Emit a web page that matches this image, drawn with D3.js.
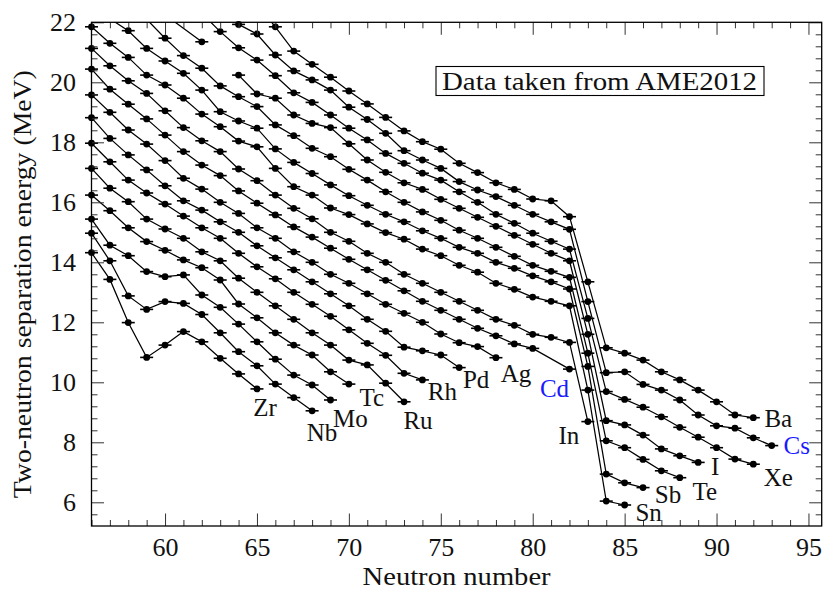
<!DOCTYPE html>
<html><head><meta charset="utf-8">
<script src="https://cdn.jsdelivr.net/npm/d3@7"></script>
<style>
body{margin:0;background:#fff}
svg{display:block}
text{font-family:'Liberation Serif','Times New Roman',serif;fill:#111}
</style>
</head><body>
<svg id="chart" width="823" height="591"></svg>
<script>
// ---------------- DATA ----------------
// null = no value for that N (line continues to the next value); NaN = line is interrupted there
const elements = ["Zr","Nb","Mo","Tc","Ru","Rh","Pd","Ag","Cd","In","Sn","Sb","Te","I","Xe","Cs","Ba"];
const firstN   = [56,56,56,56,56,56,56,56,56,56,56,57,59,60,62,63,65];

const s2nZr = [14.32,13.43,11.99,10.83,11.24,11.69,11.35,10.80,10.28,9.78];
const s2nNb = [14.97,14.05,12.88,12.43,12.69,12.63,12.26,11.65,11.02,10.55,9.94,9.49,9.05];
const s2nMo = [15.44,14.57,14.22,13.69,13.52,13.58,12.91,12.50,11.94,11.35,10.77,10.24,9.91,9.41];
const s2nTc = [16.24,15.72,15.15,14.69,14.40,14.08,13.82,13.41,12.61,12.15,11.65,11.24,10.91,10.35,9.94];
const s2nRu = [17.13,16.47,16.02,15.44,15.11,14.80,14.35,14.05,13.47,13.00,12.55,12.10,11.65,11.24,10.74,10.58,9.97,9.35];
const s2nRh = [17.97,17.35,16.74,16.31,15.94,15.54,15.15,14.80,14.30,13.85,13.45,13.00,12.60,12.20,11.75,11.30,10.90,10.30,10.08];
const s2nPd = [18.82,18.13,17.58,17.08,16.55,16.05,15.74,15.35,15.00,14.55,14.15,13.75,13.35,12.95,12.55,12.10,11.70,11.17,11.05,10.91,10.49];
const s2nAg = [19.58,19.00,18.41,17.94,17.39,16.80,16.44,16.00,15.63,15.15,14.80,14.35,14.00,13.60,13.30,12.95,12.60,12.30,12.00,11.61,11.32,11.19,10.82];
const s2nCd = [20.44,19.77,19.27,18.78,18.24,17.69,17.24,16.89,16.38,15.97,15.58,15.18,14.84,14.47,14.10,13.75,13.40,13.05,12.70,12.40,12.10,11.80,11.55,11.28,11.13,null,10.44];
const s2nIn = [21.13,20.55,20.05,19.63,19.05,18.49,18.05,17.69,17.11,16.72,16.24,15.80,15.45,15.00,14.70,14.30,14.00,13.60,13.30,13.00,12.70,12.40,12.10,11.90,11.60,11.50,11.33,8.69];
const s2nSn = [21.85,21.30,20.83,20.24,19.91,19.47,18.94,18.52,18.04,17.85,17.13,16.52,16.24,15.81,15.59,15.28,14.99,14.77,14.44,14.22,13.90,13.67,13.30,13.10,12.84,12.70,12.55,9.74,6.04,5.91];
const s2nSb = [22.12,21.72,21.13,20.71,20.30,19.74,19.02,18.71,18.47,17.78,17.33,16.96,16.58,16.22,15.90,15.60,15.35,15.05,14.80,14.50,14.30,14.00,13.80,13.55,13.35,13.11,10.53,6.94,6.65,6.49];
const s2nTe = [22.10,21.47,20.89,20.47,19.88,19.52,19.19,18.58,18.22,17.80,17.52,17.10,16.74,16.35,16.00,15.68,15.40,15.07,14.80,14.50,14.20,13.90,13.70,13.50,10.97,8.05,7.82,7.43,7.05,6.82];
const s2nI  = [22.25,null,21.35,NaN,20.24,19.61,19.47,18.91,18.63,18.49,17.95,17.41,17.00,16.65,16.43,16.10,15.80,15.50,15.20,14.90,14.60,14.30,14.05,11.60,8.72,8.58,8.24,7.78,7.55,7.33];
const s2nXe = [22.30,21.69,21.15,20.74,20.22,19.65,19.33,18.91,18.47,18.08,17.63,17.30,16.97,16.74,16.35,16.00,15.60,15.30,14.97,14.70,14.44,12.13,9.69,9.43,9.17,8.85,8.50,8.17,7.82,7.44,7.27];
const s2nCs = [22.50,21.93,21.61,20.91,20.38,20.08,19.74,19.17,18.76,18.30,17.72,17.41,17.13,16.69,16.41,16.19,15.90,15.60,15.35,15.10,12.69,10.32,10.35,9.93,9.74,9.41,8.91,8.55,8.47,8.15,7.89];
const s2nBa = [22.60,21.85,21.04,20.60,20.17,19.71,19.28,18.83,18.38,18.02,17.77,17.30,16.99,16.65,16.43,16.11,16.05,15.52,13.35,11.15,10.97,10.74,10.35,10.08,9.74,9.35,8.91,8.82];

const seriesValues = [s2nZr,s2nNb,s2nMo,s2nTc,s2nRu,s2nRh,s2nPd,s2nAg,s2nCd,s2nIn,s2nSn,s2nSb,s2nTe,s2nI,s2nXe,s2nCs,s2nBa];

const xMajorTicks = [60,65,70,75,80,85,90,95];
const yMajorTicks = [6,8,10,12,14,16,18,20,22];
const xTitle = "Neutron number";
const yTitle = "Two-neutron separation energy (MeV)";
const noteText = "Data taken from AME2012";
const highlighted = ["Cd","Cs"];

// ---------------- LAYOUT ----------------
const plot = {left:91.5, right:821.7, top:22.3, bottom:526};
const labelOffset = {Zr:[8,19],Nb:[10,22],Mo:[20,18],Tc:[23,13],Ru:[14,19],Rh:[20,12],Pd:[17,12],Ag:[20,16],
  Cd:[-15,19],In:[-19,14],Sn:[24,7],Sb:[25,7],Te:[25,14],I:[17,4],Xe:[25,13],Cs:[25,0],Ba:[25,1]};
const FONT = 25;

const svg = d3.select("#chart");
const x = d3.scaleLinear().domain([56, 95.72]).range([plot.left, plot.right]);
const y = d3.scaleLinear().domain([5.21, 22]).range([plot.bottom, plot.top]);

svg.append("defs").append("clipPath").attr("id","clip")
  .append("rect").attr("x",plot.left).attr("y",plot.top)
  .attr("width",plot.right-plot.left).attr("height",plot.bottom-plot.top);

const chains = elements.map((el,i)=>({
  name:el,
  pts: seriesValues[i].map((v,k)=>({n:firstN[i]+k, s:v})).filter(d=>d.s!==null)
}));

const line = d3.line().defined(d=>!isNaN(d.s)).x(d=>x(d.n)).y(d=>y(d.s));
svg.append("g").attr("clip-path","url(#clip)")
  .selectAll("path").data(chains).join("path")
  .attr("d",d=>line(d.pts)).attr("fill","none").attr("stroke","#000").attr("stroke-width",1.25);

const allPts = chains.flatMap(c=>c.pts).filter(d=>!isNaN(d.s) && d.s<=22.05 && d.s>=5.21);
const gMarks = svg.append("g");
gMarks.selectAll("line").data(allPts).join("line")
  .attr("x1",d=>x(d.n)-6.5).attr("x2",d=>x(d.n)+6.5)
  .attr("y1",d=>y(d.s)).attr("y2",d=>y(d.s))
  .attr("stroke","#000").attr("stroke-width",1.6);
gMarks.selectAll("circle").data(allPts).join("circle")
  .attr("cx",d=>x(d.n)).attr("cy",d=>y(d.s)).attr("r",3.4).attr("fill","#000");

const xMinor = d3.range(56, 96, 1).filter(v=>!xMajorTicks.includes(v));
const yMinor = d3.range(5.6, 22, 0.4).map(v=>+v.toFixed(1)).filter(v=>!yMajorTicks.some(t=>Math.abs(t-v)<0.01));

function styleAxis(g){ g.select(".domain").remove(); g.selectAll(".tick line").attr("stroke","#333").attr("stroke-width",1); }
function styleText(g){ g.selectAll("text").attr("font-size",FONT+1).attr("font-family","Liberation Serif").style("fill","#111"); }

svg.append("g").attr("transform",`translate(0,${plot.bottom})`)
  .call(d3.axisBottom(x).tickValues(xMajorTicks).tickSize(-12.5).tickPadding(12).tickFormat(d3.format("d")))
  .call(styleAxis).call(styleText);
svg.append("g").attr("transform",`translate(0,${plot.bottom})`)
  .call(d3.axisBottom(x).tickValues(xMinor).tickSize(-6).tickFormat("")).call(styleAxis);
svg.append("g").attr("transform",`translate(0,${plot.top})`)
  .call(d3.axisTop(x).tickValues(xMajorTicks).tickSize(-12.5).tickFormat("")).call(styleAxis);
svg.append("g").attr("transform",`translate(0,${plot.top})`)
  .call(d3.axisTop(x).tickValues(xMinor).tickSize(-6).tickFormat("")).call(styleAxis);

svg.append("g").attr("transform",`translate(${plot.left},0)`)
  .call(d3.axisLeft(y).tickValues(yMajorTicks).tickSize(-12.5).tickPadding(15.5).tickFormat(d3.format("d")))
  .call(styleAxis).call(styleText);
svg.append("g").attr("transform",`translate(${plot.left},0)`)
  .call(d3.axisLeft(y).tickValues(yMinor).tickSize(-6).tickFormat("")).call(styleAxis);
svg.append("g").attr("transform",`translate(${plot.right},0)`)
  .call(d3.axisRight(y).tickValues(yMajorTicks).tickSize(-12.5).tickFormat("")).call(styleAxis);
svg.append("g").attr("transform",`translate(${plot.right},0)`)
  .call(d3.axisRight(y).tickValues(yMinor).tickSize(-6).tickFormat("")).call(styleAxis);

svg.append("rect").attr("x",plot.left).attr("y",plot.top)
  .attr("width",plot.right-plot.left).attr("height",plot.bottom-plot.top)
  .attr("fill","none").attr("stroke","#000").attr("stroke-width",1.3);

svg.append("g").selectAll("text").data(chains).join("text")
  .attr("x",d=>{const p=d.pts[d.pts.length-1]; return x(p.n)+labelOffset[d.name][0];})
  .attr("y",d=>{const p=d.pts[d.pts.length-1]; return y(p.s)+labelOffset[d.name][1];})
  .attr("text-anchor","middle").attr("dominant-baseline","central")
  .attr("font-size",FONT)
  .style("fill",d=>highlighted.includes(d.name)?"#1a1aff":"#111")
  .text(d=>d.name);

svg.append("text").attr("x",(plot.left+plot.right)/2).attr("y",585)
  .attr("text-anchor","middle").attr("font-size",26)
  .attr("textLength",188).attr("lengthAdjust","spacingAndGlyphs").text(xTitle);
svg.append("text").attr("transform",`translate(31,${(plot.top+plot.bottom)/2+10}) rotate(-90)`)
  .attr("text-anchor","middle").attr("font-size",26)
  .attr("textLength",428).attr("lengthAdjust","spacingAndGlyphs").text(yTitle);

svg.append("rect").attr("x",436).attr("y",66.5).attr("width",328).attr("height",29)
  .attr("fill","#fff").attr("stroke","#000").attr("stroke-width",1.1);
svg.append("text").attr("x",442).attr("y",90).attr("font-size",26)
  .attr("textLength",315).attr("lengthAdjust","spacingAndGlyphs").text(noteText);
</script>
</body></html>
